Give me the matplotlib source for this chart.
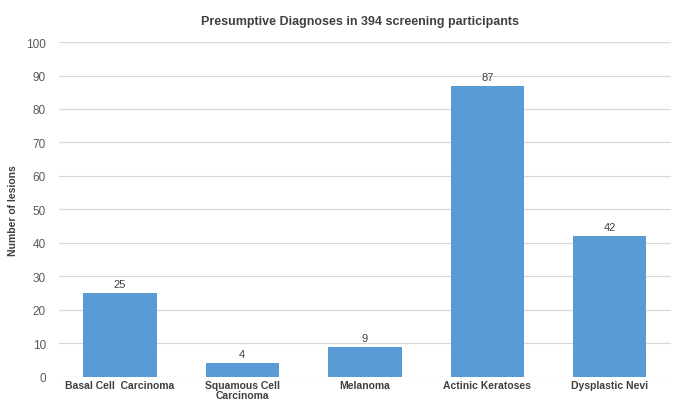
import numpy as np
import matplotlib.pyplot as plt

# data
categories = ['Basal Cell  Carcinoma', 'Squamous Cell\nCarcinoma', 'Melanoma',
              'Actinic Keratoses', 'Dysplastic Nevi']
lesions = [25, 4, 9, 87, 42]

plt.rcParams['font.family'] = ['Liberation Sans', 'DejaVu Sans']

fig = plt.figure(figsize=(6.73, 4.02), dpi=100)
ax = fig.add_axes([0.087, 0.06, 0.91, 0.833])

x = np.arange(len(categories))
bars = ax.bar(x, lesions, width=0.6, color='#5B9BD5', zorder=3)
for b, v in zip(bars, lesions):
    ax.text(b.get_x() + b.get_width()/2, v + 1.2, str(v), ha='center', va='bottom',
            fontsize=8, color='#404040')

ax.set_ylim(0, 100)
ax.set_xlim(-0.5, len(categories) - 0.5)
ax.set_yticks(np.arange(0, 101, 10))
ax.yaxis.grid(True, color='#d9d9d9', linewidth=0.9, zorder=0)
for s in ax.spines.values():
    s.set_visible(False)
ax.tick_params(axis='both', length=0)
ax.tick_params(axis='y', labelsize=8.5, labelcolor='#595959', pad=9)
ax.set_xticks(x)
ax.set_xticklabels(categories, fontsize=7.5, fontweight='bold', color='#404040',
                   va='top', linespacing=1.05)
ax.tick_params(axis='x', pad=2)
ax.set_ylabel('Number of lesions', fontsize=7.5, fontweight='bold', color='#404040',
              labelpad=6)
fig.text(0.535, 0.945, 'Presumptive Diagnoses in 394 screening participants',
         ha='center', va='center', fontsize=9, fontweight='bold', color='#404040')

fig.savefig('out.png', dpi=100)
